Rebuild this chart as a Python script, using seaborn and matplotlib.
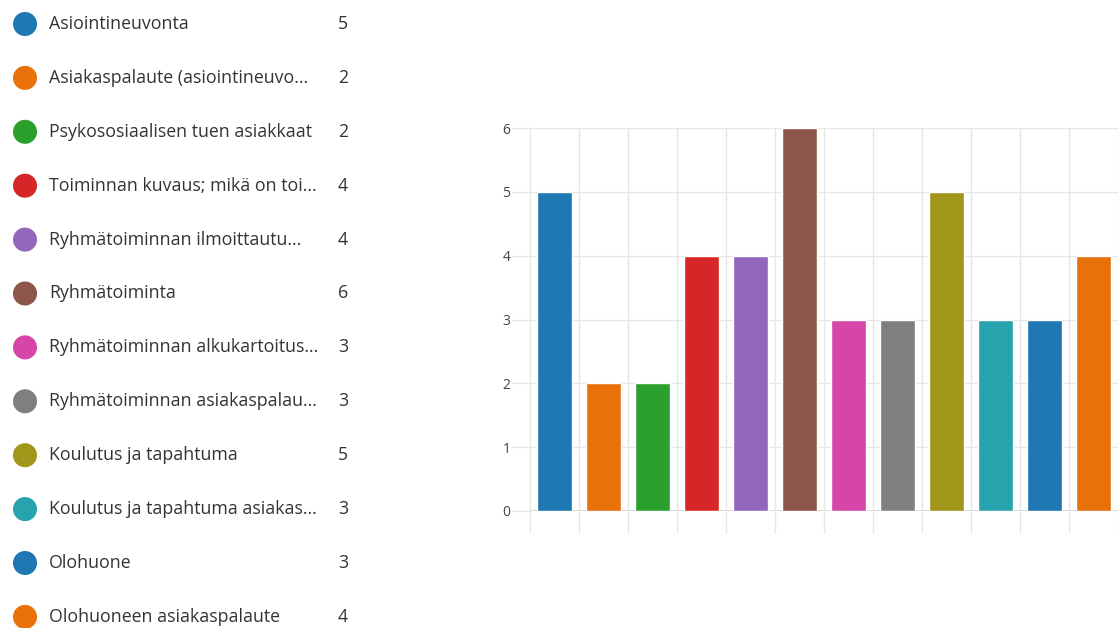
import numpy as np
import pandas as pd
import seaborn as sns
import matplotlib.pyplot as plt

# Data
categories = [
    'Asiointineuvonta',
    'Asiakaspalaute (asiointineuvo...',
    'Psykososiaalisen tuen asiakkaat',
    'Toiminnan kuvaus; mikä on toi...',
    'Ryhmätoiminnan ilmoittautu...',
    'Ryhmätoiminta',
    'Ryhmätoiminnan alkukartoitus...',
    'Ryhmätoiminnan asiakaspalau...',
    'Koulutus ja tapahtuma',
    'Koulutus ja tapahtuma asiakas...',
    'Olohuone',
    'Olohuoneen asiakaspalaute',
]
counts = [5, 2, 2, 4, 4, 6, 3, 3, 5, 3, 3, 4]
colors = ['#1f77b4', '#e8710a', '#2ca02c', '#d62728', '#9467bd', '#8c564b',
          '#d546a8', '#7f7f7f', '#a1951a', '#26a3ad', '#1f77b4', '#e8710a']

sns.set_style('white')
plt.rcParams['font.family'] = ['Open Sans', 'DejaVu Sans']

df = pd.DataFrame({'category': categories, 'count': counts})
df['key'] = [f'{i}' for i in range(len(df))]

fig = plt.figure(figsize=(11.18, 6.28), dpi=100)

# Bar chart
ax = fig.add_axes([530 / 1118, 1 - 511 / 628, 1 - 530 / 1118, (511 - 128) / 628])
sns.barplot(data=df, x='key', y='count', hue='key', palette=colors,
            width=0.72, legend=False, ax=ax, saturation=1)
ax.set_xlim(-0.5, len(df) - 0.5)
ax.set_ylim(0, 6)
ax.set_yticks(range(7))
ax.set_xticks(np.arange(-0.5, len(df), 1.0))
ax.set_xticklabels([])
ax.set_xlabel('')
ax.set_ylabel('')
ax.grid(True, color='#e6e6e6', linewidth=1)
ax.set_axisbelow(True)
for s in ax.spines.values():
    s.set_visible(False)
ax.axhline(0, color='#d0d0d0', linewidth=1.2, zorder=0.5)
ax.axvline(-0.5, color='#d0d0d0', linewidth=1.2, zorder=0.5)
ax.tick_params(axis='x', bottom=True, length=16, color='#e6e6e6', width=1)
ax.tick_params(axis='y', left=True, length=13, color='#e6e6e6', width=1,
               labelsize=10, labelcolor='#444444', pad=1)

# Legend list on the left
lax = fig.add_axes([0, 0, 370 / 1118, 1])
rows = np.arange(len(df))
lax.scatter(np.full(len(df), 25), rows, s=300, c=colors, linewidths=0)
for i, (name, n) in enumerate(zip(categories, counts)):
    lax.text(49, i, name, fontsize=12.8, color='#333333', va='center', ha='left')
    lax.text(348, i, str(n), fontsize=12.8, color='#333333', va='center', ha='right')
lax.set_xlim(0, 370)
lax.set_ylim((628 - 24) / 53.9, -24 / 53.9)
lax.axis('off')

fig.savefig('out.png', dpi=100)
